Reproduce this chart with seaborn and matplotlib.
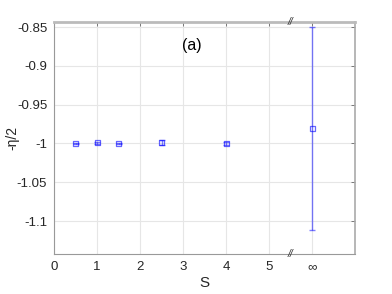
import matplotlib
matplotlib.use("Agg")
import matplotlib.pyplot as plt
import seaborn as sns
import pandas as pd
import numpy as np

# data
x_pos = [0.5, 1.0, 1.5, 2.5, 4.0, 6.0]
y_vals = [-1.0, -0.999, -1.0, -0.999, -1.0, -0.981]
y_err = [0.001, 0.0015, 0.001, 0.003, 0.0015, 0.131]
xtick_vals = [0, 1, 2, 3, 4, 5, 6]
xtick_labels = ["0", "1", "2", "3", "4", "5", "∞"]
ytick_vals = [-1.1, -1.05, -1.0, -0.95, -0.9, -0.85]
ytick_labels = ["-1.1", "-1.05", "-1", "-0.95", "-0.9", "-0.85"]

sns.set_theme(style="white")
plt.rcParams['font.family'] = ['Liberation Sans', 'DejaVu Sans']

df = pd.DataFrame({"S": x_pos, "y": y_vals, "err": y_err})

fig = plt.figure(figsize=(3.92, 2.94), dpi=100)
ax = fig.add_axes([0.138, 0.136, 0.768, 0.789])

col = "#0000ff"
ax.errorbar(df["S"], df["y"], yerr=df["err"], fmt="none", ecolor=col,
            alpha=0.5, elinewidth=1.0, capsize=2.5, capthick=1.0, zorder=3)
sns.scatterplot(data=df, x="S", y="y", ax=ax, marker="s", s=14,
                facecolor="none", edgecolor=col, linewidth=0.9, alpha=0.6,
                zorder=4, legend=False)

ax.set_xlim(0, 7)
ax.set_ylim(-1.1425, -0.8435)
ax.set_xticks(xtick_vals)
ax.set_xticklabels(xtick_labels)
ax.set_yticks(ytick_vals)
ax.set_yticklabels(ytick_labels)
ax.grid(True, color="#e6e6e6", linewidth=0.8)
ax.set_axisbelow(True)
for sp in ax.spines.values():
    sp.set_color("#999999")
    sp.set_linewidth(0.8)
ax.spines['top'].set_linewidth(2.0)
ax.spines['top'].set_color("#bbbbbb")
ax.spines['right'].set_linewidth(1.2)
ax.spines['right'].set_color("#aaaaaa")
ax.tick_params(direction="in", length=3, width=0.7, color="#777777",
               labelsize=9.5, labelcolor="#262626", top=True, right=True,
               labeltop=False, labelright=False, pad=5)
ax.set_xlabel("S", fontsize=11, color="#262626", labelpad=2)
ax.set_ylabel("-η/2", fontsize=10, color="#262626", labelpad=-2)
ax.text(3.2, -0.8735, "(a)", fontsize=11.5, color="black", ha="center", va="center")

# axis break marks
for yy in (-0.8435, -1.1425):
    ax.text(5.5, yy, "//", fontsize=7.5, color="#333333", ha="center",
            va="center", style="italic", clip_on=False)

fig.savefig("out.png", dpi=100)
